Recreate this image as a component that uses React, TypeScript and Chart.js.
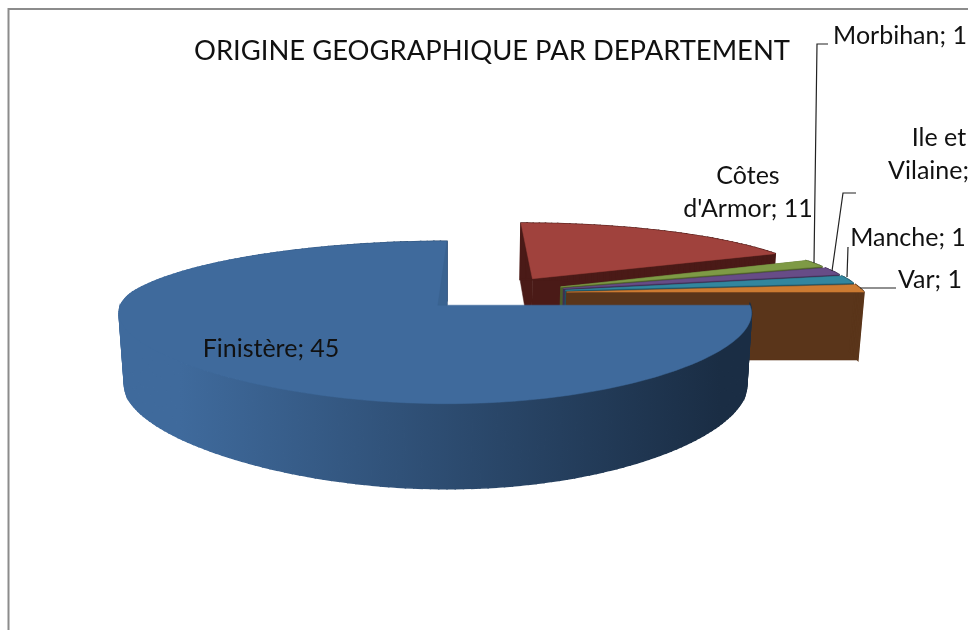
import React, { useEffect, useRef } from "react";
import { Chart, registerables } from "chart.js";

Chart.register(...registerables);

const departments = ["Finistère", "Côtes d'Armor", "Morbihan", "Ile et Vilaine", "Manche", "Var"];
const counts = [45, 11, 1, 1, 1, 1];
const explosion = [0.23, 0.245, 0.24, 0.24, 0.24, 0.24];
const topColors = ["#3F6A9C", "#A0423D", "#7E9A45", "#674C87", "#32869E", "#CC7B32"];
const endWallColors = ["#1B2E45", "#4A1A17", "#4D5E2A", "#3F2E53", "#1F5261", "#5A351A"];
const chartTitle = "ORIGINE GEOGRAPHIQUE PAR DEPARTEMENT";
const FONT = "Lato, 'Open Sans', sans-serif";
const LABEL_SIZE = 25;

// label lines: [lines, centre x, first baseline y]
const labelLayout: [string[], number, number][] = [
  [["Finistère; 45"], 271, 357],
  [["Côtes", "d'Armor; 11"], 748, 184],
  [["Morbihan; 1"], 900, 44],
  [["Ile et", "Vilaine; 1"], 939, 146],
  [["Manche; 1"], 908, 246],
  [["Var; 1"], 930, 288],
];
const leaders: number[][][] = [
  [[828, 44], [817, 44], [814, 263]],
  [[856, 193], [843, 193], [832, 271]],
  [[848, 247], [847, 277]],
  [[896, 288], [860, 288]],
];

// Perspective camera for the 3D pie
const CX = 447, U0 = 0.1626, CY = 293, RX = 298, RY = 72.4;
const KV = 0.206, KVX_FAR = 0.16, KVX_NEAR = 0.1, KUL = 0.07, KZ = 0.027, KZX = 0.015, DEPTH = 70;
function project(u: number, v: number, z: number): [number, number] {
  const ux = u + U0;
  const wx = 1 + (v > 0 ? KVX_FAR : KVX_NEAR) * v + KUL * Math.min(ux, 0) + KZX * z;
  const wy = 1 + KV * v + KZ * z;
  return [CX + (RX * ux) / wx, CY - (RY * v - DEPTH * z) / wy];
}

function fillPoly(
  ctx: CanvasRenderingContext2D,
  pts: [number, number][],
  fill: string | CanvasGradient,
  stroke = 0.5
) {
  ctx.beginPath();
  pts.forEach((p, i) => (i ? ctx.lineTo(p[0], p[1]) : ctx.moveTo(p[0], p[1])));
  ctx.closePath();
  ctx.fillStyle = fill;
  ctx.fill();
  ctx.strokeStyle = fill;
  ctx.lineWidth = stroke;
  ctx.stroke();
}

const pie3d = {
  id: "pie3d",
  beforeDatasetsDraw(chart: any) {
    const { ctx } = chart;
    const meta = chart.getDatasetMeta(0);
    const order = meta.data.map((_: any, i: number) => i).slice(1).concat([0]);
    ctx.save();
    for (const i of order) {
      const el = meta.data[i];
      const a0 = el.startAngle, a1 = el.endAngle;
      const mid = (a0 + a1) / 2;
      const d = el.options.offset;
      const ax = d * Math.cos(mid), ay = -d * Math.sin(mid);
      const at = (a: number, z: number) => project(ax + Math.cos(a), ay - Math.sin(a), z);
      const arc = (z: number) => {
        const steps = Math.max(6, Math.ceil((a1 - a0) * 40));
        const out: [number, number][] = [];
        for (let s = 0; s <= steps; s++) out.push(at(a0 + ((a1 - a0) * s) / steps, z));
        return out;
      };
      const apexTop = project(ax, ay, 0), apexBot = project(ax, ay, 1);
      // cut faces: the start face fades from a mid shade at the far edge to the wall shade
      const far = at(a0, 0);
      const startFill = ctx.createLinearGradient(0, far[1], 0, apexTop[1]);
      startFill.addColorStop(0, i === 1 ? "#8A3633" : endWallColors[i]);
      startFill.addColorStop(0.95, i === 1 ? "#7B302D" : endWallColors[i]);
      startFill.addColorStop(1, endWallColors[i]);
      if (i !== 0) fillPoly(ctx, [apexTop, at(a0, 0), at(a0, 1), apexBot], startFill);
      fillPoly(ctx, [apexTop, at(a1, 0), at(a1, 1), apexBot], endWallColors[i]);
      // outer curved wall, one facet per step so the fold at the silhouette stays filled
      let wall: string | CanvasGradient = endWallColors[i];
      if (i === 0) {
        const g = ctx.createLinearGradient(180, 0, 720, 0);
        g.addColorStop(0, "#3F6A9C");
        g.addColorStop(1, "#1A2D44");
        wall = g;
      }
      const rim = arc(0), base = arc(1);
      for (let s = 0; s < rim.length - 1; s++) {
        fillPoly(ctx, [rim[s], rim[s + 1], base[s + 1], base[s]], wall, 1.5);
      }
      // top face
      fillPoly(ctx, [apexTop, ...rim], topColors[i]);
      if (a1 - a0 > Math.PI) {
        fillPoly(ctx, [apexTop, at(a1, 0), project(ax - 0.03, ay, 0)], "#3A6391");
      }
    }
    ctx.restore();
    return false;
  },
  afterDraw(chart: any) {
    const { ctx } = chart;
    ctx.save();
    // frame
    ctx.strokeStyle = "#8C8C8C";
    ctx.lineWidth = 2;
    ctx.beginPath();
    ctx.moveTo(8.5, 630);
    ctx.lineTo(8.5, 9);
    ctx.lineTo(968, 9);
    ctx.stroke();
    // leaders
    ctx.strokeStyle = "#222";
    ctx.lineWidth = 1.2;
    for (const line of leaders) {
      ctx.beginPath();
      line.forEach((p, i) => (i ? ctx.lineTo(p[0], p[1]) : ctx.moveTo(p[0], p[1])));
      ctx.stroke();
    }
    // data labels
    ctx.fillStyle = "#111";
    ctx.font = `${LABEL_SIZE}px ${FONT}`;
    ctx.textAlign = "center";
    ctx.textBaseline = "alphabetic";
    labelLayout.forEach(([lines, x, y]) => {
      lines.forEach((t, k) => ctx.fillText(t, x, y + k * 33));
    });
    ctx.restore();
  },
};

export default function App() {
  const ref = useRef<HTMLCanvasElement>(null);
  useEffect(() => {
    const chart = new Chart(ref.current!, {
      type: "pie",
      data: {
        labels: departments,
        datasets: [{ data: counts, backgroundColor: topColors, offset: explosion, borderWidth: 0 } as any],
      },
      options: {
        responsive: false,
        animation: false,
        rotation: 90,
        layout: { padding: { left: 16, top: 35 } },
        plugins: {
          legend: { display: false },
          tooltip: { enabled: false },
          title: {
            display: true,
            text: chartTitle,
            fullSize: false,
            color: "#111",
            font: { family: FONT, size: 27.4, weight: "normal" },
            padding: { top: 0, bottom: 0 },
          },
        },
      } as any,
      plugins: [pie3d as any],
    });
    return () => chart.destroy();
  }, []);
  return (
    <canvas
      ref={ref}
      width={968}
      height={630}
      style={{ position: "absolute", left: 0, top: 0, width: 968, height: 630, background: "#fff" }}
    />
  );
}
